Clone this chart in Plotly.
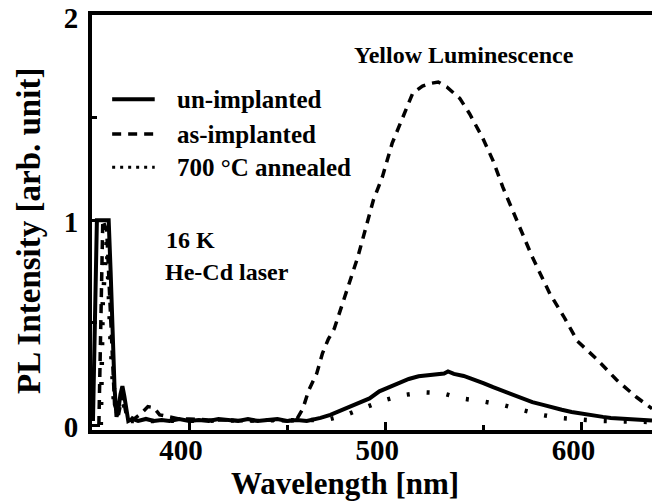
import plotly.graph_objects as go

# ---- data ----
wl_un = [351, 352, 353, 355, 357, 359, 360, 361, 362, 363, 364, 365, 366, 367, 368, 369, 371, 374, 378, 382,
         386, 390, 395, 400, 405, 410, 415, 420, 425, 430, 435, 440, 445, 450, 455, 460, 463, 467, 472, 477,
         482, 487, 492, 497, 502, 507, 512, 517, 522, 527, 530, 532, 535, 540, 545, 550, 555, 560, 565, 570,
         575, 580, 586, 590, 595, 600, 605, 611, 615, 620, 625, 630, 636]
pl_un = [0.02, 0.5, 1.0, 1.0, 1.0, 1.0, 0.75, 0.45, 0.18, 0.04, 0.08, 0.15, 0.19, 0.14, 0.06, 0.02, 0.03, 0.02,
         0.03, 0.02, 0.025, 0.02, 0.03, 0.02, 0.025, 0.02, 0.03, 0.025, 0.02, 0.03, 0.02, 0.025, 0.03, 0.02,
         0.025, 0.02, 0.025, 0.035, 0.05, 0.07, 0.09, 0.11, 0.13, 0.165, 0.185, 0.205, 0.225, 0.238, 0.245,
         0.248, 0.252, 0.262, 0.25, 0.24, 0.225, 0.205, 0.185, 0.167, 0.148, 0.128, 0.112, 0.1, 0.088, 0.075,
         0.064, 0.055, 0.048, 0.04, 0.035, 0.031, 0.028, 0.025, 0.022]

wl_as = [354, 355, 356, 358, 360, 362, 364, 366, 368, 372, 376, 379, 382, 385, 390, 395, 400, 410, 420, 430,
         440, 450, 455, 458, 461, 465, 468, 471, 474, 479, 486, 494, 498.5, 503.5, 508.5, 514, 519, 523, 527,
         531.5, 538, 543, 549.5, 555, 560, 567, 575, 584, 591, 598, 608, 618, 628, 636]
pl_as = [0.0, 0.5, 1.0, 0.95, 0.5, 0.1, 0.05, 0.15, 0.05, 0.03, 0.06, 0.09, 0.085, 0.05, 0.04, 0.03, 0.03,
         0.025, 0.025, 0.02, 0.025, 0.02, 0.03, 0.08, 0.17, 0.25, 0.35, 0.42, 0.47, 0.62, 0.82, 1.1, 1.21,
         1.375, 1.49, 1.62, 1.655, 1.668, 1.675, 1.65, 1.595, 1.52, 1.405, 1.29, 1.16, 1.0, 0.82, 0.64, 0.53,
         0.41, 0.32, 0.22, 0.137, 0.08]

wl_an = [355, 356, 358, 360, 362, 364, 366, 369, 380, 400, 420, 440, 460, 470, 480, 490, 499, 509, 519, 529,
         539, 549, 560, 570, 580, 590, 600, 610, 620, 636]
pl_an = [0.0, 0.6, 0.9, 0.4, 0.05, 0.06, 0.12, 0.02, 0.02, 0.02, 0.02, 0.02, 0.02, 0.025, 0.05, 0.09, 0.12,
         0.146, 0.16, 0.156, 0.13, 0.117, 0.098, 0.073, 0.049, 0.034, 0.025, 0.02, 0.018, 0.015]

x_ticks = [400, 500, 600]
y_ticks = [0, 1, 2]
legend_names = ["un-implanted", "as-implanted", "700 \u00b0C annealed"]
x_title = "Wavelength [nm]"
y_title = "PL Intensity [arb. unit]"

FONT = "Liberation Serif"

fig = go.Figure()
fig.add_trace(go.Scatter(x=wl_un, y=pl_un, mode="lines", name=legend_names[0],
                         line=dict(color="black", width=4)))
fig.add_trace(go.Scatter(x=wl_as, y=pl_as, mode="lines", name=legend_names[1],
                         line=dict(color="black", width=3.5, dash="9px,7px")))
fig.add_trace(go.Scatter(x=wl_an, y=pl_an, mode="lines", name=legend_names[2],
                         line=dict(color="black", width=4.5, dash="3px,17px")))

# manual legend (sample lines + labels)
leg_rows = [(0.797, "solid", 4), (0.713, "9px,7px", 3.5), (0.633, "3px,5px", 3)]
for (yy, dsh, w), name in zip(leg_rows, legend_names):
    fig.add_shape(type="line", xref="paper", yref="paper", x0=0.036, x1=0.112, y0=yy, y1=yy,
                  line=dict(color="black", width=w, dash=dsh))
    fig.add_annotation(xref="paper", yref="paper", x=0.148, y=yy, text=name, showarrow=False,
                       xanchor="left", yanchor="middle", font=dict(family=FONT, size=25, color="black", weight="bold"))

fig.add_annotation(xref="paper", yref="paper", x=0.664, y=0.904, text="Yellow Luminescence", showarrow=False,
                   xanchor="center", yanchor="middle", font=dict(family=FONT, size=24, color="black", weight="bold"))
fig.add_annotation(xref="paper", yref="paper", x=0.128, y=0.458, text="16 K", showarrow=False,
                   xanchor="left", yanchor="middle", font=dict(family=FONT, size=24, color="black", weight="bold"))
fig.add_annotation(xref="paper", yref="paper", x=0.126, y=0.381, text="He-Cd laser", showarrow=False,
                   xanchor="left", yanchor="middle", font=dict(family=FONT, size=24, color="black", weight="bold"))

# axis titles placed as in the reference
fig.add_annotation(xref="paper", yref="paper", x=(345 - 92) / 560, y=(430 - 503) / 415, text=x_title,
                   showarrow=False, xanchor="center", yanchor="bottom",
                   font=dict(family=FONT, size=31, color="black", weight="bold"))
fig.add_annotation(xref="paper", yref="paper", x=(29 - 92) / 560, y=(430 - 231) / 415, text=y_title,
                   showarrow=False, xanchor="center", yanchor="middle", textangle=-90,
                   font=dict(family=FONT, size=33, color="black", weight="bold"))

fig.update_layout(
    width=652, height=503,
    margin=dict(l=92, r=0, t=15, b=73),
    paper_bgcolor="white", plot_bgcolor="white",
    showlegend=False,
    font=dict(family=FONT, color="black"),
    xaxis=dict(range=[350.5, 636], tickvals=x_ticks, ticks="inside", ticklen=8, tickwidth=3,
               tickcolor="black", showline=True, linewidth=4, linecolor="black", mirror=True,
               showgrid=False, zeroline=False, ticklabelshift=-8, ticklabelstandoff=-9,
               tickfont=dict(family=FONT, size=29, weight="bold"),
               minor=dict(tickvals=[350, 450, 550], ticks="inside", ticklen=5, tickwidth=3, tickcolor="black")),
    yaxis=dict(range=[-0.024, 2.002], tickvals=y_ticks, ticks="inside", ticklen=8, tickwidth=3,
               tickcolor="black", showline=True, linewidth=4, linecolor="black", mirror=False,
               showgrid=False, zeroline=False, ticklabelstandoff=4, ticklabelshift=2,
               tickfont=dict(family=FONT, size=29, weight="bold"),
               minor=dict(tickvals=[0.5, 1.5], ticks="inside", ticklen=5, tickwidth=3, tickcolor="black")),
)

fig.write_html("out.html")
